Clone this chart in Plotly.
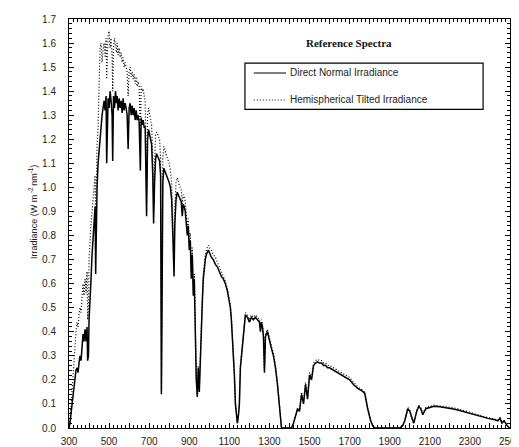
import plotly.graph_objects as go

# ---------------- data ----------------
# Block 1: 300-445 nm
wl_uv = [300, 305, 310, 315, 320, 325, 330, 335, 340, 345, 350, 355, 360, 365, 370, 375, 380, 385, 390,
         393, 397, 400, 405, 410, 415, 420, 425, 430, 433, 437, 440, 445]
dni_uv = [0.0, 0.02, 0.06, 0.10, 0.15, 0.19, 0.21, 0.24, 0.25, 0.23, 0.27, 0.30, 0.28, 0.35, 0.39, 0.36, 0.41, 0.36, 0.42,
          0.28, 0.30, 0.45, 0.58, 0.62, 0.72, 0.78, 0.85, 0.92, 0.64, 0.95, 1.00, 1.10]
hti_uv = [0.0, 0.03, 0.08, 0.15, 0.22, 0.28, 0.35, 0.40, 0.44, 0.42, 0.47, 0.50, 0.48, 0.55, 0.60, 0.55, 0.62, 0.56, 0.65,
          0.45, 0.50, 0.70, 0.82, 0.85, 0.90, 0.95, 1.00, 1.05, 0.85, 1.12, 1.18, 1.25]

# Block 2: 450-757 nm
wl_vis = [450, 455, 460, 465, 470, 475, 480, 485, 488, 491, 495, 500, 505, 510, 515, 518, 522, 527, 532, 537,
          540, 545, 550, 555, 560, 565, 570, 575, 580, 585, 590, 595, 600, 605, 610, 615, 620, 625, 630, 635,
          640, 645, 650, 656, 660, 665, 670, 675, 680, 687, 692, 697, 702, 707, 712,
          718, 722, 727, 732, 737, 742, 747, 752, 757]
dni_vis = [1.15, 1.22, 1.26, 1.30, 1.33, 1.36, 1.32, 1.38, 1.10, 1.34, 1.37, 1.33, 1.40, 1.36, 1.30, 1.11,
           1.38, 1.33, 1.40, 1.35,
           1.38, 1.32, 1.37, 1.33, 1.36, 1.31, 1.37, 1.32, 1.35, 1.33, 1.30, 1.16, 1.33, 1.35, 1.30, 1.34,
           1.30, 1.33, 1.28, 1.32, 1.28, 1.30, 1.27,
           1.07, 1.29, 1.26, 1.28, 1.25, 1.25, 0.88, 1.20, 1.24, 1.22, 1.20, 1.18,
           1.05, 0.85, 1.02, 1.12, 1.14, 1.13, 1.12, 1.11, 1.05]
hti_vis = [1.40, 1.58, 1.60, 1.52, 1.57, 1.60, 1.54, 1.62, 1.45, 1.58, 1.63, 1.65, 1.58, 1.62, 1.55, 1.40,
           1.58, 1.62, 1.59, 1.56,
           1.60, 1.55, 1.58, 1.54, 1.56, 1.52, 1.54, 1.50, 1.52, 1.49, 1.48, 1.38, 1.48, 1.50, 1.46, 1.48,
           1.45, 1.47, 1.43, 1.46, 1.42, 1.44, 1.42,
           1.22, 1.42, 1.40, 1.41, 1.38, 1.36, 0.98, 1.30, 1.33, 1.30, 1.28, 1.26,
           1.12, 0.92, 1.10, 1.22, 1.23, 1.22, 1.21, 1.20, 1.12]

# Block 3: 761-1000 nm
wl_nir = [761, 764, 768, 773, 778, 783, 790, 795, 800, 806, 812, 818, 824, 828, 834,
          840, 845, 850, 855, 860, 865, 870, 875, 880, 885, 890, 895, 900, 905, 910, 915, 920, 925,
          930, 935, 940, 945, 950, 955, 960, 965, 970, 975, 980, 985, 990, 995, 1000]
dni_nir = [0.14, 0.50, 1.02, 1.08, 1.07, 1.06, 1.04, 1.03, 1.02, 1.00, 0.95, 0.80, 0.63, 0.85, 0.95,
           0.98, 0.97, 0.96, 0.95, 0.94, 0.88, 0.93, 0.92, 0.90, 0.85, 0.80, 0.84, 0.74, 0.78, 0.62, 0.72,
           0.55, 0.62, 0.35, 0.20, 0.13, 0.25, 0.15, 0.30, 0.45, 0.52, 0.62, 0.68, 0.70, 0.72, 0.73, 0.74, 0.73]
hti_nir = [0.16, 0.55, 1.12, 1.17, 1.16, 1.14, 1.12, 1.11, 1.10, 1.07, 1.02, 0.86, 0.68, 0.92, 1.02,
           1.04, 1.03, 1.01, 1.00, 0.99, 0.93, 0.97, 0.96, 0.94, 0.89, 0.84, 0.87, 0.77, 0.81, 0.65, 0.75,
           0.57, 0.64, 0.36, 0.21, 0.13, 0.26, 0.16, 0.31, 0.47, 0.54, 0.64, 0.70, 0.72, 0.74, 0.75, 0.76, 0.75]

# Block 4: 1010-1360 nm
wl_ir1 = [1010, 1020, 1030, 1040, 1050, 1060, 1070, 1080, 1090, 1100,
          1105, 1110, 1115, 1120, 1125, 1130, 1135, 1140, 1145, 1150, 1155, 1160, 1165, 1170, 1175, 1180,
          1190, 1200, 1210, 1220, 1230, 1240, 1250, 1255, 1260, 1265, 1270, 1275, 1280,
          1290, 1300, 1310, 1320, 1330, 1340, 1350, 1355, 1360]
dni_ir1 = [0.71, 0.70, 0.68, 0.67, 0.65, 0.63, 0.62, 0.60, 0.57, 0.53,
           0.50, 0.45, 0.38, 0.30, 0.22, 0.10, 0.05, 0.02, 0.05, 0.10, 0.25, 0.30, 0.35, 0.40, 0.45, 0.47,
           0.46, 0.44, 0.46, 0.45, 0.46, 0.45, 0.44, 0.40, 0.44, 0.42, 0.38, 0.23, 0.38,
           0.40, 0.36, 0.33, 0.30, 0.25, 0.18, 0.08, 0.03, 0.0]
hti_ir1 = [0.74, 0.72, 0.71, 0.69, 0.67, 0.65, 0.63, 0.61, 0.58, 0.54,
           0.51, 0.46, 0.39, 0.31, 0.23, 0.11, 0.05, 0.02, 0.05, 0.11, 0.26, 0.31, 0.36, 0.41, 0.46, 0.48,
           0.47, 0.45, 0.47, 0.46, 0.47, 0.46, 0.45, 0.41, 0.45, 0.43, 0.39, 0.24, 0.39,
           0.41, 0.37, 0.34, 0.31, 0.26, 0.19, 0.09, 0.03, 0.0]

# Block 5: 1400-2500 nm
wl_ir2 = [1400, 1410, 1420, 1430, 1440, 1450, 1460, 1470, 1480, 1490, 1500, 1510, 1520, 1530, 1540, 1550,
          1560, 1570, 1580, 1590, 1600, 1620, 1640, 1660, 1680, 1700, 1720, 1740, 1760,
          1775, 1790, 1805, 1815, 1825,
          1950, 1965, 1975, 1990, 2000, 2010, 2020, 2035, 2045, 2055, 2065, 2080,
          2100, 2120, 2150, 2180, 2210, 2240, 2270, 2300, 2330, 2360, 2390, 2420, 2440, 2450, 2460, 2470,
          2480, 2490, 2500]
dni_ir2 = [0.0, 0.0, 0.02, 0.05, 0.08, 0.07, 0.14, 0.10, 0.18, 0.12, 0.22, 0.20, 0.26, 0.27, 0.275, 0.27,
           0.27, 0.26, 0.26, 0.25, 0.25, 0.24, 0.23, 0.22, 0.21, 0.20, 0.18, 0.165, 0.155,
           0.145, 0.08, 0.03, 0.01, 0.0,
           0.0, 0.01, 0.03, 0.08, 0.07, 0.04, 0.02, 0.07, 0.09, 0.08, 0.055, 0.08,
           0.085, 0.09, 0.088, 0.085, 0.08, 0.075, 0.068, 0.06, 0.052, 0.045, 0.04, 0.035, 0.03, 0.04, 0.02, 0.03,
           0.015, 0.005, 0.0]
hti_ir2 = [0.0, 0.0, 0.02, 0.05, 0.08, 0.07, 0.15, 0.11, 0.19, 0.13, 0.23, 0.21, 0.27, 0.28, 0.285, 0.28,
           0.28, 0.27, 0.27, 0.26, 0.26, 0.25, 0.24, 0.23, 0.22, 0.21, 0.19, 0.17, 0.16,
           0.15, 0.085, 0.03, 0.01, 0.0,
           0.0, 0.01, 0.03, 0.085, 0.075, 0.04, 0.02, 0.075, 0.095, 0.085, 0.06, 0.085,
           0.09, 0.095, 0.092, 0.09, 0.085, 0.08, 0.072, 0.064, 0.056, 0.048, 0.043, 0.038, 0.032, 0.042, 0.022, 0.032,
           0.016, 0.006, 0.0]

series_names = ["Direct Normal Irradiance", "Hemispherical Tilted Irradiance"]
chart_title = "Reference Spectra"
y_title = "Irradiance (W m<sup> -2 </sup>nm<sup>-1</sup>)"

# ---------------- assemble ----------------
wavelength = wl_uv + wl_vis + wl_nir + wl_ir1 + wl_ir2
direct = dni_uv + dni_vis + dni_nir + dni_ir1 + dni_ir2
hemi = hti_uv + hti_vis + hti_nir + hti_ir1 + hti_ir2
assert len(wavelength) == len(direct) == len(hemi), (len(wavelength), len(direct), len(hemi))

FONT = "Liberation Sans, Arial, Helvetica, sans-serif"
DOT = "1px,2px"

fig = go.Figure()
fig.add_trace(go.Scatter(x=wavelength, y=hemi, mode="lines", name=series_names[1],
                         line=dict(color="black", width=1.2, dash=DOT), showlegend=False))
fig.add_trace(go.Scatter(x=wavelength, y=direct, mode="lines", name=series_names[0],
                         line=dict(color="black", width=1.5), showlegend=False))

axis_common = dict(showline=True, linecolor="black", linewidth=1, mirror="allticks",
                   ticks="inside", tickcolor="black", tickwidth=1, ticklen=5,
                   showgrid=False, zeroline=False, ticklabeloverflow="allow",
                   tickfont=dict(family=FONT, size=10, color="#222"))

# major ticks every 100 nm, labelled every 200 nm; minor ticks every 20 nm
fig.update_xaxes(range=[300, 2500], tickmode="linear", tick0=300, dtick=100, ticklabelstep=2,
                 minor=dict(tickmode="linear", tick0=300, dtick=20, ticks="inside", ticklen=3,
                            tickcolor="black", tickwidth=1, showgrid=False),
                 ticklabelstandoff=4, automargin=False, **axis_common)
fig.update_yaxes(range=[0, 1.7], tickmode="linear", tick0=0, dtick=0.1, tickformat=".1f",
                 minor=dict(tickmode="linear", tick0=0, dtick=0.02, ticks="inside", ticklen=3,
                            tickcolor="black", tickwidth=1, showgrid=False),
                 ticklabelstandoff=10, automargin=False, **axis_common)

# title and legend (drawn inside the plot area, as in the reference)
annotations = [
    dict(text="<b>%s</b>" % chart_title, xref="paper", yref="paper", x=0.635, y=0.941,
         showarrow=False, font=dict(family="Liberation Serif, Times New Roman, serif", size=11, color="#111"),
         xanchor="center", yanchor="middle"),
    dict(text=y_title, xref="paper", yref="paper", x=-0.082, y=0.528, textangle=-90,
         showarrow=False, font=dict(family=FONT, size=9, color="#222"),
         xanchor="center", yanchor="middle"),
    dict(text=series_names[0], xref="paper", yref="paper", x=0.496, y=0.868, showarrow=False,
         font=dict(family=FONT, size=10, color="#222"), xanchor="left", yanchor="middle"),
    dict(text=series_names[1], xref="paper", yref="paper", x=0.496, y=0.802, showarrow=False,
         font=dict(family=FONT, size=10, color="#222"), xanchor="left", yanchor="middle"),
]
shapes = [
    dict(type="rect", xref="paper", yref="paper", x0=0.399, x1=0.939, y0=0.779, y1=0.892,
         line=dict(color="black", width=1.2), fillcolor="white", layer="above"),
    dict(type="line", xref="paper", yref="paper", x0=0.419, x1=0.492, y0=0.868, y1=0.868,
         line=dict(color="black", width=1.2)),
    dict(type="line", xref="paper", yref="paper", x0=0.419, x1=0.492, y0=0.802, y1=0.802,
         line=dict(color="black", width=1, dash=DOT)),
]

# the page body has an 8px default margin, so the figure is sized/offset to compensate
fig.update_layout(width=511, height=439, margin=dict(l=61, r=9, t=11, b=19),
                  paper_bgcolor="white", plot_bgcolor="white",
                  annotations=annotations, shapes=shapes, showlegend=False)

fig.write_html("out.html")
